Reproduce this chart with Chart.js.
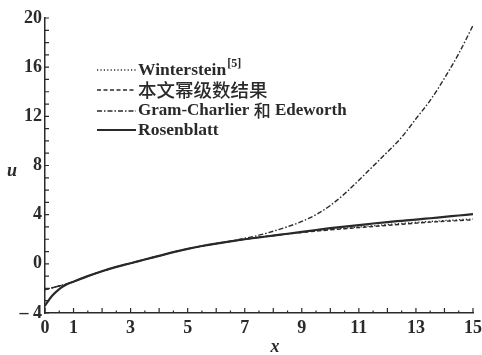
<!doctype html>
<html>
<head>
	<meta charset="utf-8">
	<title>u - x</title>
	<script src="https://cdn.jsdelivr.net/npm/chart.js@4/dist/chart.umd.min.js"></script>
	<style>
		html, body {margin:0; padding:0; background:#fff}
		#wrap {width:482px; height:355px}
	</style>
</head>
<body>
<div id="wrap"><canvas id="canvas"></canvas></div>
<script>
	// x 取值
	var xs = [0, 0.25, 0.5, 0.75, 1, 1.5, 2, 2.5, 3, 3.5, 4, 4.5, 5, 5.5, 6, 6.5, 7, 7.5, 8, 8.5, 9, 9.5, 10, 10.5, 11, 11.5, 12, 12.5, 13, 13.5, 14, 14.5, 15];

	var winterstein = [-2.1, -1.95, -1.8, -1.65, -1.45, -1.0, -0.6, -0.25, 0.05, 0.35, 0.65, 0.95, 1.22, 1.45, 1.65, 1.83, 2.0, 2.15, 2.3, 2.44, 2.57, 2.69, 2.8, 2.9, 3.0, 3.1, 3.2, 3.29, 3.38, 3.45, 3.52, 3.59, 3.65];
	var series = [-2.1, -1.95, -1.8, -1.65, -1.45, -1.0, -0.6, -0.25, 0.05, 0.35, 0.65, 0.95, 1.22, 1.45, 1.65, 1.83, 2.0, 2.15, 2.3, 2.43, 2.55, 2.66, 2.76, 2.86, 2.95, 3.04, 3.13, 3.22, 3.31, 3.39, 3.46, 3.52, 3.58];
	var gramCharlier = [-2.1, -1.95, -1.8, -1.65, -1.45, -1.0, -0.6, -0.25, 0.05, 0.35, 0.65, 0.95, 1.22, 1.45, 1.65, 1.85, 2.08, 2.33, 2.65, 3.02, 3.45, 4.0, 4.75, 5.7, 6.8, 7.95, 9.1, 10.3, 11.8, 13.3, 15.1, 17.1, 19.4];
	var rosenblatt = [-3.4, -2.6, -2.05, -1.68, -1.45, -1.0, -0.6, -0.25, 0.05, 0.35, 0.65, 0.95, 1.22, 1.45, 1.65, 1.83, 2.0, 2.15, 2.3, 2.45, 2.6, 2.75, 2.9, 3.03, 3.15, 3.28, 3.4, 3.5, 3.6, 3.71, 3.82, 3.93, 4.04];

	var legendLabels = ['Winterstein', '本文幂级数结果', 'Gram-Charlier 和 Edeworth', 'Rosenblatt'];
	var xTickLabels = [0, 1, 3, 5, 7, 9, 11, 13, 15];
	var yTickLabels = [-4, 0, 4, 8, 12, 16, 20];

	var ink = '#2a2a2a';
	var serif = '"Liberation Serif", "DejaVu Serif", serif';
	var cjk = '"Noto Sans CJK SC", sans-serif';

	function pts(ys) {
		return xs.map(function (x, i) { return {x: x, y: ys[i]}; });
	}

	var styles = [
		{dash: [1.2, 2.2], width: 1.3},
		{dash: [4, 2.5], width: 1.4},
		{dash: [5, 2, 1.5, 2], width: 1.4},
		{dash: [], width: 2.2}
	];
	var allData = [winterstein, series, gramCharlier, rosenblatt];

	// 内向刻度、坐标轴名称、图例
	var decor = {
		id: 'decor',
		afterDraw: function (chart) {
			var c = chart.ctx, sx = chart.scales.x, sy = chart.scales.y;
			var x0 = sx.left, y0 = sy.bottom;
			c.save();
			c.strokeStyle = ink;
			c.lineWidth = 1.2;
			c.beginPath();
			for (var v = -4; v <= 20; v++) {
				var py = sy.getPixelForValue(v);
				c.moveTo(x0, py); c.lineTo(x0 + 4, py);
			}
			for (var h = 0; h <= 30; h++) {
				var px = sx.getPixelForValue(h / 2);
				c.moveTo(px, y0); c.lineTo(px, y0 - (h % 2 === 0 ? 5 : 2.5));
			}
			c.stroke();

			c.fillStyle = ink;
			c.font = 'italic bold 18px ' + serif;
			c.textAlign = 'center';
			c.textBaseline = 'middle';
			c.fillText('u', 12, 171);
			c.fillText('x', 275, 347);

			// 图例
			var rows = [70, 90, 111, 130];
			for (var i = 0; i < 4; i++) {
				c.setLineDash(styles[i].dash);
				c.lineWidth = styles[i].width;
				c.beginPath();
				c.moveTo(97, rows[i]); c.lineTo(136, rows[i]);
				c.stroke();
				c.setLineDash([]);
				c.textAlign = 'left';
				var tx = 138;
				if (i === 1) {
					c.font = '500 18.5px ' + cjk;
					c.fillText(legendLabels[i], tx, rows[i]);
				} else if (i === 2) {
					var parts = ['Gram-Charlier ', '和', ' Edeworth'];
					parts.forEach(function (p, k) {
						c.font = (k === 1 ? '500 17px ' + cjk : 'bold 17px ' + serif);
						c.fillText(p, tx, rows[i]);
						tx += c.measureText(p).width;
					});
				} else {
					c.font = 'bold 17.5px ' + serif;
					c.fillText(legendLabels[i], tx, rows[i]);
					if (i === 0) {
						var w = c.measureText(legendLabels[i]).width;
						c.font = 'bold 12px ' + serif;
						c.fillText('[5]', tx + w + 1, rows[i] - 6);
					}
				}
			}
			c.restore();
		}
	};

	new Chart(document.getElementById('canvas'), {
		type: 'line',
		data: {
			datasets: allData.map(function (d, i) {
				return {
					label: legendLabels[i],
					data: pts(d),
					borderColor: ink,
					borderWidth: styles[i].width,
					borderDash: styles[i].dash,
					pointRadius: 0,
					tension: 0.4,
					cubicInterpolationMode: 'monotone',
					fill: false
				};
			})
		},
		options: {
			responsive: true,
			maintainAspectRatio: false,
			animation: false,
			layout: {padding: {top: 18, right: 9, left: 0, bottom: 0}},
			plugins: {legend: {display: false}, tooltip: {enabled: false}},
			scales: {
				x: {
					type: 'linear', min: 0, max: 15,
					afterFit: function (s) { s.height = 42; },
					border: {display: true, color: ink, width: 1.5},
					grid: {display: false},
					afterBuildTicks: function (s) {
						s.ticks = xTickLabels.map(function (v) { return {value: v}; });
					},
					ticks: {
						autoSkip: false, maxRotation: 0, padding: -3,
						color: ink,
						font: {family: serif, size: 18, weight: 'bold'}
					}
				},
				y: {
					min: -4, max: 20,
					afterFit: function (s) { s.width = 45; },
					border: {display: true, color: ink, width: 1.5},
					grid: {display: false},
					afterBuildTicks: function (s) {
						s.ticks = yTickLabels.map(function (v) { return {value: v}; });
					},
					ticks: {
						autoSkip: false, padding: -5,
						color: ink,
						font: {family: serif, size: 18, weight: 'bold'},
						callback: function (v) { return v < 0 ? '– ' + Math.abs(v) : String(v); }
					}
				}
			}
		},
		plugins: [decor]
	});
</script>
</body>
</html>
